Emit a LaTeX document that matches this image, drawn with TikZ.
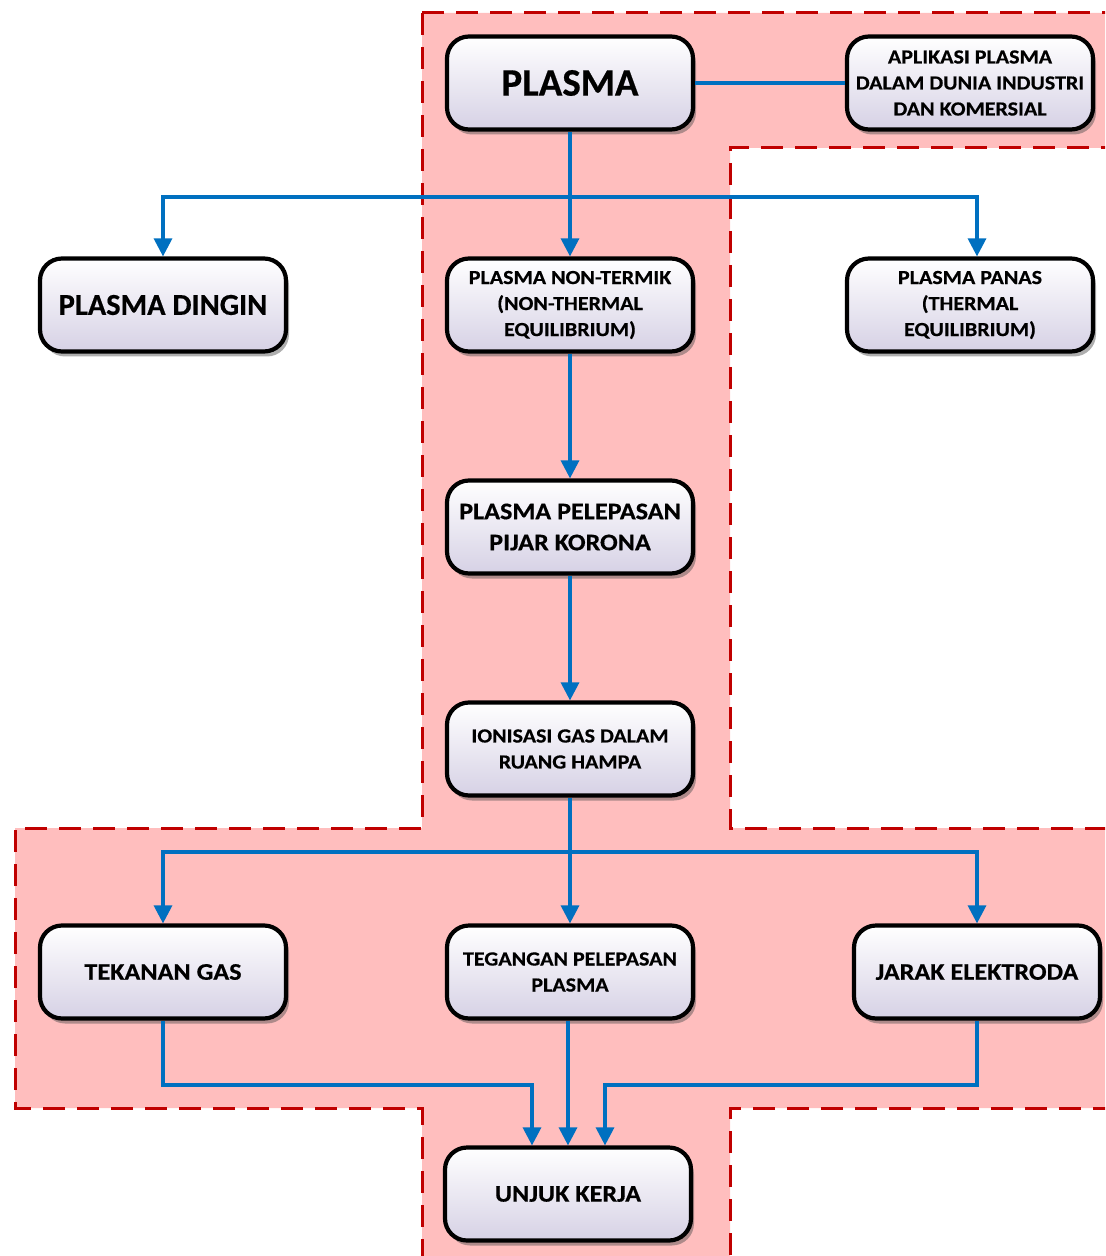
\documentclass[tikz,border=0pt]{standalone}
\usepackage{fontspec}
\setmainfont{Carlito}
\newfontfamily\widefont{Carlito}[FakeStretch=1.1,FakeBold=0.5]
\newfontfamily\heavyfont{Carlito}[FakeBold=0.5]
\usetikzlibrary{arrows.meta,shadows}
\definecolor{pinkfill}{RGB}{255,190,190}
\definecolor{dashred}{RGB}{192,0,0}
\definecolor{arrblue}{RGB}{0,112,192}
\definecolor{boxbot}{RGB}{214,209,229}
\begin{document}
\begin{tikzpicture}[x=0.5pt,y=-0.5pt,
  box/.style={draw=black, line width=2.1pt, rounded corners=11pt,
    top color=white, bottom color=boxbot,
    minimum width=123pt, minimum height=46.5pt, align=center, inner sep=2pt,
    drop shadow={shadow xshift=1.5pt, shadow yshift=-2.5pt, opacity=0.45, fill=black!70}},
  bigtxt/.style={font=\heavyfont\bfseries\fontsize{19.5}{22}\selectfont},
  midtxt/.style={font=\heavyfont\bfseries\fontsize{15.2}{17}\selectfont},
  lgtxt/.style={font=\widefont\bfseries\fontsize{11.9}{15.5}\selectfont},
  onetxt/.style={font=\widefont\bfseries\fontsize{11.9}{13}\selectfont},
  smtxt/.style={font=\widefont\bfseries\fontsize{10}{13}\selectfont},
  conn/.style={draw=arrblue, line width=1.6pt},
  arr/.style={conn, -{Triangle[length=9pt,width=9pt]}},
  region/.style={fill=pinkfill, draw=dashred, line width=1.5pt, dash pattern=on 11pt off 6pt}
]
\useasboundingbox (0,0) rectangle (1105,1256);
\clip (0,0) rectangle (1105,1256);
\path[region] (422,13) -- (1130,13) -- (1130,148) -- (730,148) -- (730,828) -- (1130,828)
  -- (1130,1108) -- (730,1108) -- (730,1280) -- (422,1280) -- (422,1108) -- (15,1108)
  -- (15,828) -- (422,828) -- cycle;

\node[box, bigtxt] (plasma) at (570,83) {PLASMA};
\node[box, smtxt] (aplikasi) at (970,83) {APLIKASI PLASMA\\DALAM DUNIA INDUSTRI\\DAN KOMERSIAL};
\node[box, midtxt] (dingin) at (163,305) {PLASMA DINGIN};
\node[box, smtxt] (nontermik) at (570,305) {PLASMA NON-TERMIK\\(NON-THERMAL\\EQUILIBRIUM)};
\node[box, smtxt] (panas) at (970,305) {PLASMA PANAS\\(THERMAL\\EQUILIBRIUM)};
\node[box, lgtxt] (korona) at (570,527) {PLASMA PELEPASAN\\PIJAR KORONA};
\node[box, smtxt] (ionisasi) at (570,749) {IONISASI GAS DALAM\\RUANG HAMPA};
\node[box, onetxt] (tekanan) at (163,972) {TEKANAN GAS};
\node[box, smtxt] (tegangan) at (570,972) {TEGANGAN PELEPASAN\\PLASMA};
\node[box, onetxt] (jarak) at (977,972) {JARAK ELEKTRODA};
\node[box, onetxt] (unjuk) at (568,1194) {UNJUK KERJA};

\coordinate (h1) at (570,197);
\coordinate (h2) at (570,852);
\coordinate (m1) at (532,1085);
\coordinate (m2) at (605,1085);

\draw[conn] (plasma.east) -- (aplikasi.west);
\draw[arr] (plasma.south) -- (nontermik.north);
\draw[arr] (h1) -| (dingin.north);
\draw[arr] (h1) -| ([xshift=3.5pt]panas.north);
\draw[arr] (nontermik.south) -- (korona.north);
\draw[arr] (korona.south) -- (ionisasi.north);
\draw[arr] (ionisasi.south) -- (tegangan.north);
\draw[arr] (h2) -| (tekanan.north);
\draw[arr] (h2) -| (jarak.north);
\draw[arr] (tekanan.south) |- (m1) -- (m1 |- unjuk.north);
\draw[arr] (tegangan.south -| unjuk.north) -- (unjuk.north);
\draw[arr] (jarak.south) |- (m2) -- (m2 |- unjuk.north);
\end{tikzpicture}
\end{document}
